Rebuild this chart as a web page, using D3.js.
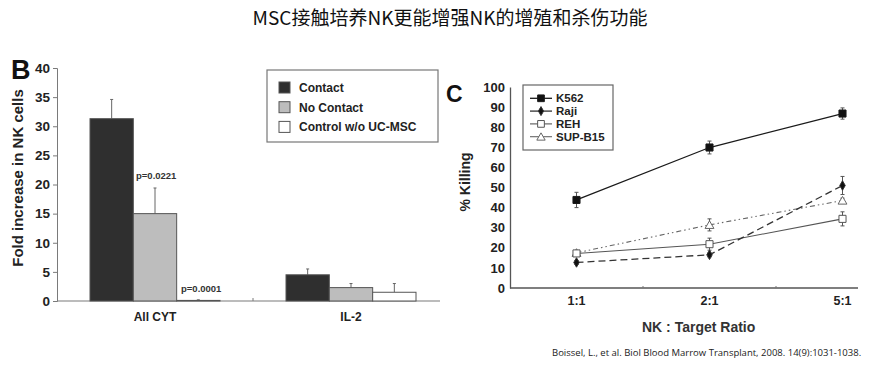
<!DOCTYPE html>
<html>
<head>
<meta charset="utf-8">
<script src="https://cdn.jsdelivr.net/npm/d3@7"></script>
<style>
  body { margin: 0; background: #fff; }
  svg { display: block; }
  text { font-family: "Liberation Sans", Arial, sans-serif; }
</style>
</head>
<body>
<script>
// ---- data ----
var titleText = "MSC接触培养NK更能增强NK的增殖和杀伤功能";
var citeText = "Boissel, L., et al. Biol Blood Marrow Transplant, 2008. 14(9):1031-1038.";

// panel B
var groupsB = ["All CYT", "IL-2"];
var seriesB = ["Contact", "No Contact", "Control w/o UC-MSC"];
var contactVals = [31.3, 4.5];
var contactErr = [3.3, 1.0];
var noContactVals = [15.0, 2.3];
var noContactErr = [4.4, 0.7];
var controlVals = [0.1, 1.5];
var controlErr = [0.1, 1.5];
var ticksB = [0, 5, 10, 15, 20, 25, 30, 35, 40];

// panel C
var ratiosC = ["1:1", "2:1", "5:1"];
var k562 = [43.8, 69.9, 86.8];
var k562Err = [3.8, 3.2, 2.8];
var raji = [12.7, 16.5, 51.0];
var rajiErr = [1.0, 1.0, 4.5];
var reh = [17.2, 21.8, 34.4];
var rehErr = [1.2, 3.0, 3.5];
var supb15 = [17.5, 31.4, 43.5];
var supb15Err = [1.0, 3.0, 1.2];
var ticksC = [0, 10, 20, 30, 40, 50, 60, 70, 80, 90, 100];

var W = 877, H = 372;
var svg = d3.select("body").append("svg").attr("width", W).attr("height", H);

// title
svg.append("text")
  .attr("x", 450).attr("y", 25)
  .attr("text-anchor", "middle")
  .style("font-family", "'Noto Sans CJK SC', sans-serif")
  .style("font-size", "19px")
  .attr("fill", "#111")
  .text(titleText);

// ================= Panel B =================
var axisGrey = "#7a7a7a";
var yB = d3.scaleLinear().domain([0, 40]).range([301, 68]);
var xB = d3.scaleBand().domain(groupsB).range([57, 449]);
var xSub = d3.scaleBand().domain(seriesB).range([0, 130]);
var fillsB = ["#2f2f2f", "#bdbdbd", "#ffffff"];
var valsB = [contactVals, noContactVals, controlVals];
var errsB = [contactErr, noContactErr, controlErr];

var gB = svg.append("g");

var yAxisB = gB.append("g")
  .attr("transform", "translate(57,0)")
  .call(d3.axisLeft(yB).tickValues(ticksB).tickSize(4).tickPadding(3));
yAxisB.selectAll("text")
  .style("font-size", "13.5px").style("font-weight", "bold").attr("fill", "#222");
yAxisB.selectAll("line, path").attr("stroke", axisGrey);

// x axis line
gB.append("line")
  .attr("x1", 57).attr("x2", 440).attr("y1", yB(0)).attr("y2", yB(0))
  .attr("stroke", axisGrey).attr("stroke-width", 1.2);
gB.append("line")
  .attr("x1", xB("IL-2")).attr("x2", xB("IL-2"))
  .attr("y1", yB(0) - 3).attr("y2", yB(0))
  .attr("stroke", axisGrey);

groupsB.forEach(function (g, gi) {
  var x0 = xB(g) + (xB.bandwidth() - 130) / 2;
  seriesB.forEach(function (s, si) {
    var v = valsB[si][gi], e = errsB[si][gi];
    var bx = x0 + xSub(s), bw = xSub.bandwidth();
    var cx = bx + bw / 2;
    // error bar
    gB.append("line")
      .attr("x1", cx).attr("x2", cx)
      .attr("y1", yB(v)).attr("y2", yB(v + e))
      .attr("stroke", "#666").attr("stroke-width", 1);
    gB.append("line")
      .attr("x1", cx - 1.5).attr("x2", cx + 1.5)
      .attr("y1", yB(v + e)).attr("y2", yB(v + e))
      .attr("stroke", "#666").attr("stroke-width", 1);
    gB.append("rect")
      .attr("x", bx).attr("y", yB(v))
      .attr("width", bw).attr("height", yB(0) - yB(v))
      .attr("fill", fillsB[si]).attr("stroke", "#555").attr("stroke-width", 1);
  });
  gB.append("text")
    .attr("x", xB(g) + xB.bandwidth() / 2).attr("y", 321)
    .attr("text-anchor", "middle")
    .style("font-size", "12px").style("font-weight", "bold").attr("fill", "#222")
    .text(g);
});

// p values
gB.append("text").attr("x", 136).attr("y", 179)
  .style("font-size", "9.5px").style("font-weight", "bold").attr("fill", "#333")
  .text("p=0.0221");
gB.append("text").attr("x", 181).attr("y", 292)
  .style("font-size", "9.5px").style("font-weight", "bold").attr("fill", "#333")
  .text("p=0.0001");

// y label
gB.append("text")
  .attr("transform", "translate(23,178) rotate(-90)")
  .attr("text-anchor", "middle")
  .style("font-size", "15px").style("font-weight", "bold").attr("fill", "#222")
  .text("Fold increase in NK cells");

// panel letter
gB.append("text").attr("x", 11).attr("y", 79)
  .style("font-size", "27px").style("font-weight", "bold").attr("fill", "#111")
  .text("B");

// legend
var legB = gB.append("g");
legB.append("rect").attr("x", 267).attr("y", 70).attr("width", 171).attr("height", 72)
  .attr("fill", "#fff").attr("stroke", "#777").attr("stroke-width", 1.2);
seriesB.forEach(function (s, i) {
  var cy = 87.5 + i * 19.7;
  legB.append("rect").attr("x", 279).attr("y", cy - 5.5).attr("width", 11).attr("height", 11)
    .attr("fill", fillsB[i]).attr("stroke", "#555");
  legB.append("text").attr("x", 299).attr("y", cy + 4.5)
    .style("font-size", "12px").style("font-weight", "bold").attr("fill", "#222")
    .text(s);
});

// ================= Panel C =================
var yC = d3.scaleLinear().domain([0, 100]).range([288, 87]);
var xC = d3.scaleBand().domain(ratiosC).range([510, 909]);
var cxC = function (r) { return xC(r) + xC.bandwidth() / 2; };

var gC = svg.append("g");
var yAxisC = gC.append("g")
  .attr("transform", "translate(510,0)")
  .call(d3.axisLeft(yC).tickValues(ticksC).tickSize(0).tickPadding(5));
yAxisC.selectAll("text")
  .style("font-size", "13px").style("font-weight", "bold").attr("fill", "#222");
yAxisC.select("path").attr("stroke", "#555").attr("stroke-width", 1.3);

gC.append("line")
  .attr("x1", 510).attr("x2", 858).attr("y1", yC(0)).attr("y2", yC(0))
  .attr("stroke", "#555").attr("stroke-width", 1.3);
ratiosC.slice(1).forEach(function (r) {
  gC.append("line").attr("x1", xC(r)).attr("x2", xC(r))
    .attr("y1", yC(0) - 2).attr("y2", yC(0)).attr("stroke", "#777");
});
ratiosC.forEach(function (r) {
  gC.append("text").attr("x", cxC(r)).attr("y", 305)
    .attr("text-anchor", "middle")
    .style("font-size", "12.5px").style("font-weight", "bold").attr("fill", "#222")
    .text(r);
});

var seriesC = [
  { name: "K562", vals: k562, err: k562Err, color: "#1a1a1a", dash: null, marker: "square", fill: "#111", w: 1.3 },
  { name: "Raji", vals: raji, err: rajiErr, color: "#333", dash: "7,4", marker: "diamond", fill: "#111", w: 1.3 },
  { name: "REH", vals: reh, err: rehErr, color: "#555", dash: null, marker: "square", fill: "#fff", w: 1.1 },
  { name: "SUP-B15", vals: supb15, err: supb15Err, color: "#666", dash: "5,3,1.5,3,1.5,3", marker: "triangle", fill: "#fff", w: 1.1 }
];

var line = d3.line().x(function (d) { return cxC(d.r); }).y(function (d) { return yC(d.v); });

function marker(g, type, x, y, fill, stroke, k) {
  var sym = type === "square" ? d3.symbolSquare : type === "diamond" ? d3.symbolDiamond : d3.symbolTriangle;
  var size = (type === "square" ? 50 : type === "diamond" ? 26 : 34) * (k || 1);
  g.append("path")
    .attr("d", d3.symbol().type(sym).size(size)())
    .attr("transform", "translate(" + x + "," + (type === "triangle" ? y + 1 : y) + ")")
    .attr("fill", fill).attr("stroke", stroke).attr("stroke-width", 1);
}

// draw in reverse so K562 on top
seriesC.slice().reverse().forEach(function (s) {
  var pts = ratiosC.map(function (r, i) { return { r: r, v: s.vals[i], e: s.err[i] }; });
  gC.append("path").datum(pts)
    .attr("d", line).attr("fill", "none")
    .attr("stroke", s.color).attr("stroke-width", s.w)
    .attr("stroke-dasharray", s.dash);
  pts.forEach(function (p) {
    var x = cxC(p.r);
    gC.append("line").attr("x1", x).attr("x2", x)
      .attr("y1", yC(p.v - p.e)).attr("y2", yC(p.v + p.e))
      .attr("stroke", "#555").attr("stroke-width", 1);
    [p.v - p.e, p.v + p.e].forEach(function (ev) {
      gC.append("line").attr("x1", x - 2).attr("x2", x + 2)
        .attr("y1", yC(ev)).attr("y2", yC(ev))
        .attr("stroke", "#555").attr("stroke-width", 1);
    });
    marker(gC, s.marker, x, yC(p.v), s.fill, s.color);
  });
});

// y label
gC.append("text")
  .attr("transform", "translate(470,182) rotate(-90)")
  .attr("text-anchor", "middle")
  .style("font-size", "14px").style("font-weight", "bold").attr("fill", "#222")
  .text("% Killing");

// x label
gC.append("text").attr("x", 642).attr("y", 332)
  .style("font-size", "14px").style("font-weight", "bold").attr("fill", "#333")
  .text("NK : Target Ratio");

// panel letter
gC.append("text").attr("x", 446).attr("y", 102)
  .style("font-size", "23px").style("font-weight", "bold").attr("fill", "#111")
  .text("C");

// legend
var legC = gC.append("g");
legC.append("rect").attr("x", 523).attr("y", 85).attr("width", 90).attr("height", 65)
  .attr("fill", "#fff").attr("stroke", "#666").attr("stroke-width", 1.2);
seriesC.forEach(function (s, i) {
  var cy = 98.3 + i * 12.8;
  legC.append("line").attr("x1", 530).attr("x2", 552).attr("y1", cy).attr("y2", cy)
    .attr("stroke", s.color).attr("stroke-width", s.w);
  marker(legC, s.marker, 541, cy, s.fill, s.color, 0.9);
  legC.append("text").attr("x", 556).attr("y", cy + 4)
    .style("font-size", "11.5px").style("font-weight", "bold").attr("fill", "#222")
    .text(s.name);
});

// citation
svg.append("text").attr("x", 552).attr("y", 356)
  .style("font-family", "'Open Sans', sans-serif")
  .style("font-size", "9.5px").attr("fill", "#222")
  .text(citeText);
</script>
</body>
</html>
